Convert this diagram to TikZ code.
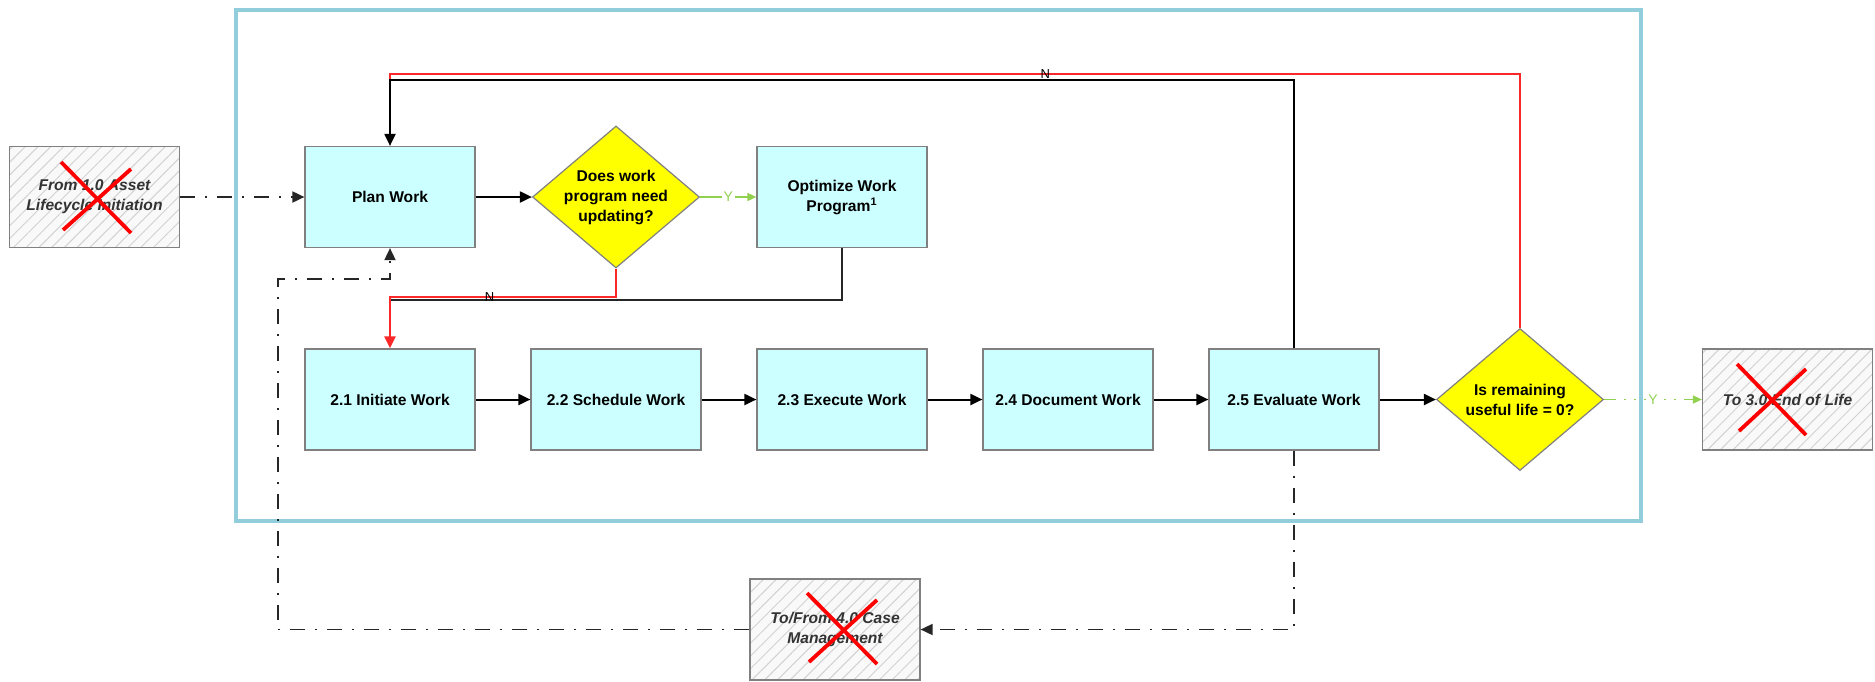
\documentclass[tikz,border=0pt]{standalone}
\usepackage{fontspec}
\setmainfont{Liberation Sans}
\usetikzlibrary{arrows.meta,shapes.geometric,patterns.meta}
\definecolor{procfill}{RGB}{204,255,255}
\definecolor{edgegray}{RGB}{128,128,128}
\definecolor{decyellow}{RGB}{255,255,0}
\definecolor{frameblue}{RGB}{146,205,220}
\definecolor{yesgreen}{RGB}{146,208,80}
\definecolor{nored}{RGB}{250,40,40}
\begin{document}
\begin{tikzpicture}[x=0.5pt,y=-0.5pt,
  every node/.style={font=\fontsize{7.8}{10}\selectfont\bfseries},
  proc/.style={draw=edgegray, line width=0.6pt, fill=procfill,
    minimum width=85pt, minimum height=50.5pt, inner sep=0pt, align=center},
  decision/.style={diamond, draw=edgegray, line width=0.6pt, fill=decyellow,
    minimum width=83.5pt, minimum height=71pt, inner sep=0pt},
  dtext/.style={align=center, inner sep=0pt},
  ext/.style={draw=edgegray, line width=0.6pt, preaction={fill=gray!5},
    pattern={Lines[angle=45,distance=4.5pt,line width=0.5pt]}, pattern color=gray!35,
    minimum width=85pt, minimum height=50.5pt, inner sep=0pt, align=center,
    font=\fontsize{7.8}{10}\selectfont\bfseries\itshape, text=black!80},
  xmark/.style={draw=red, line width=1.9pt},
  tip/.style={-{Triangle[length=6pt,width=5.5pt]}},
  flow/.style={draw=black, line width=1pt, tip},
  plain/.style={draw=black!85, line width=1pt},
  redflow/.style={draw=nored, line width=1.3pt, -{Triangle[length=6pt,width=5.5pt,fill=nored]}},
  redline/.style={draw=nored, line width=1.3pt},
  dashflow/.style={draw=black!85, line width=0.9pt, tip,
    dash pattern=on 7.5pt off 5pt on 1pt off 5pt},
  yesflow/.style={draw=yesgreen, line width=0.8pt, -{Triangle[length=4.5pt,width=4pt]}},
  yesdots/.style={draw=yesgreen, line width=0.8pt, -{Triangle[length=4.5pt,width=4pt]},
    dash pattern=on 6pt off 4pt on 1pt off 4pt on 1pt off 4pt},
  ylab/.style={fill=white, text=yesgreen, inner sep=1pt, font=\fontsize{7}{8}\selectfont},
  nlab/.style={inner sep=0pt, text=black, font=\fontsize{6.5}{7}\selectfont}
]
\useasboundingbox (0,0) rectangle (1875,681);

% process boundary
\draw[frameblue, line width=2pt] (236,10) rectangle (1641,521);

% external processes
\node[ext] (from) at (94.5,197) {From 1.0 Asset\\Lifecycle Initiation};
\node[ext] (eol)  at (1787.5,399.5) {To 3.0 End of Life};
\node[ext] (case) at (835,629.5) {To/From 4.0 Case\\Management};

% steps
\node[proc] (plan) at (390,197) {Plan Work};
\node[decision] (d1) at (616,197) {};
\node[dtext] (d1t) at (d1.center) {Does work\\program need\\updating?};
\node[proc] (opt) at (842,197) {Optimize Work\\Program\textsuperscript{1}};

\node[proc] (i21) at (390,399.5) {2.1 Initiate Work};
\node[proc] (i22) at (616,399.5) {2.2 Schedule Work};
\node[proc] (i23) at (842,399.5) {2.3 Execute Work};
\node[proc] (i24) at (1068,399.5) {2.4 Document Work};
\node[proc] (i25) at (1294,399.5) {2.5 Evaluate Work};
\node[decision] (d2) at (1520,399.5) {};
\node[dtext] (d2t) at (d2.center) {Is remaining\\useful life = 0?};

% crossed-out external processes
\draw[xmark] (61,162) -- (131,233) (131,169) -- (63,230);
\draw[xmark] (1737,364) -- (1806,435) (1806,369) -- (1739,431);
\draw[xmark] (807,593) -- (877,664) (877,600) -- (809,662);

% junction points
\coordinate (jlow) at (390,300);
\coordinate (jred) at (390,297);
\coordinate (jtop) at (390,80);
\coordinate (jtopred) at (390,74);
\coordinate (cL) at (278,629.5);
\coordinate (cU) at (278,279);
\coordinate (cP) at (390,279);

% main flow
\draw[dashflow] (from) -- (plan);
\draw[flow] (plan) -- (d1);
\draw[yesflow] (d1) -- node[ylab]{Y} (opt);
\draw[plain] (opt.south) |- (jlow);
\draw[redflow] (d1.south) |- node[nlab, pos=0.78]{N} (jred) -- (i21.north);
\draw[flow] (i21) -- (i22);
\draw[flow] (i22) -- (i23);
\draw[flow] (i23) -- (i24);
\draw[flow] (i24) -- (i25);
\draw[flow] (i25) -- (d2);
\draw[yesdots] (d2) -- node[ylab]{Y} (eol);

% loop back to planning
\draw[redline] (d2.north) |- node[nlab, pos=0.71]{N} (jtopred) -- (jtop);
\draw[flow] (i25.north) |- (jtop) -- (plan.north);

% case management exchange
\draw[dashflow] (i25.south) |- (case.east);
\draw[dashflow] (case.west) -- (cL) -- (cU) -- (cP) -- (plan.south);
\end{tikzpicture}
\end{document}
